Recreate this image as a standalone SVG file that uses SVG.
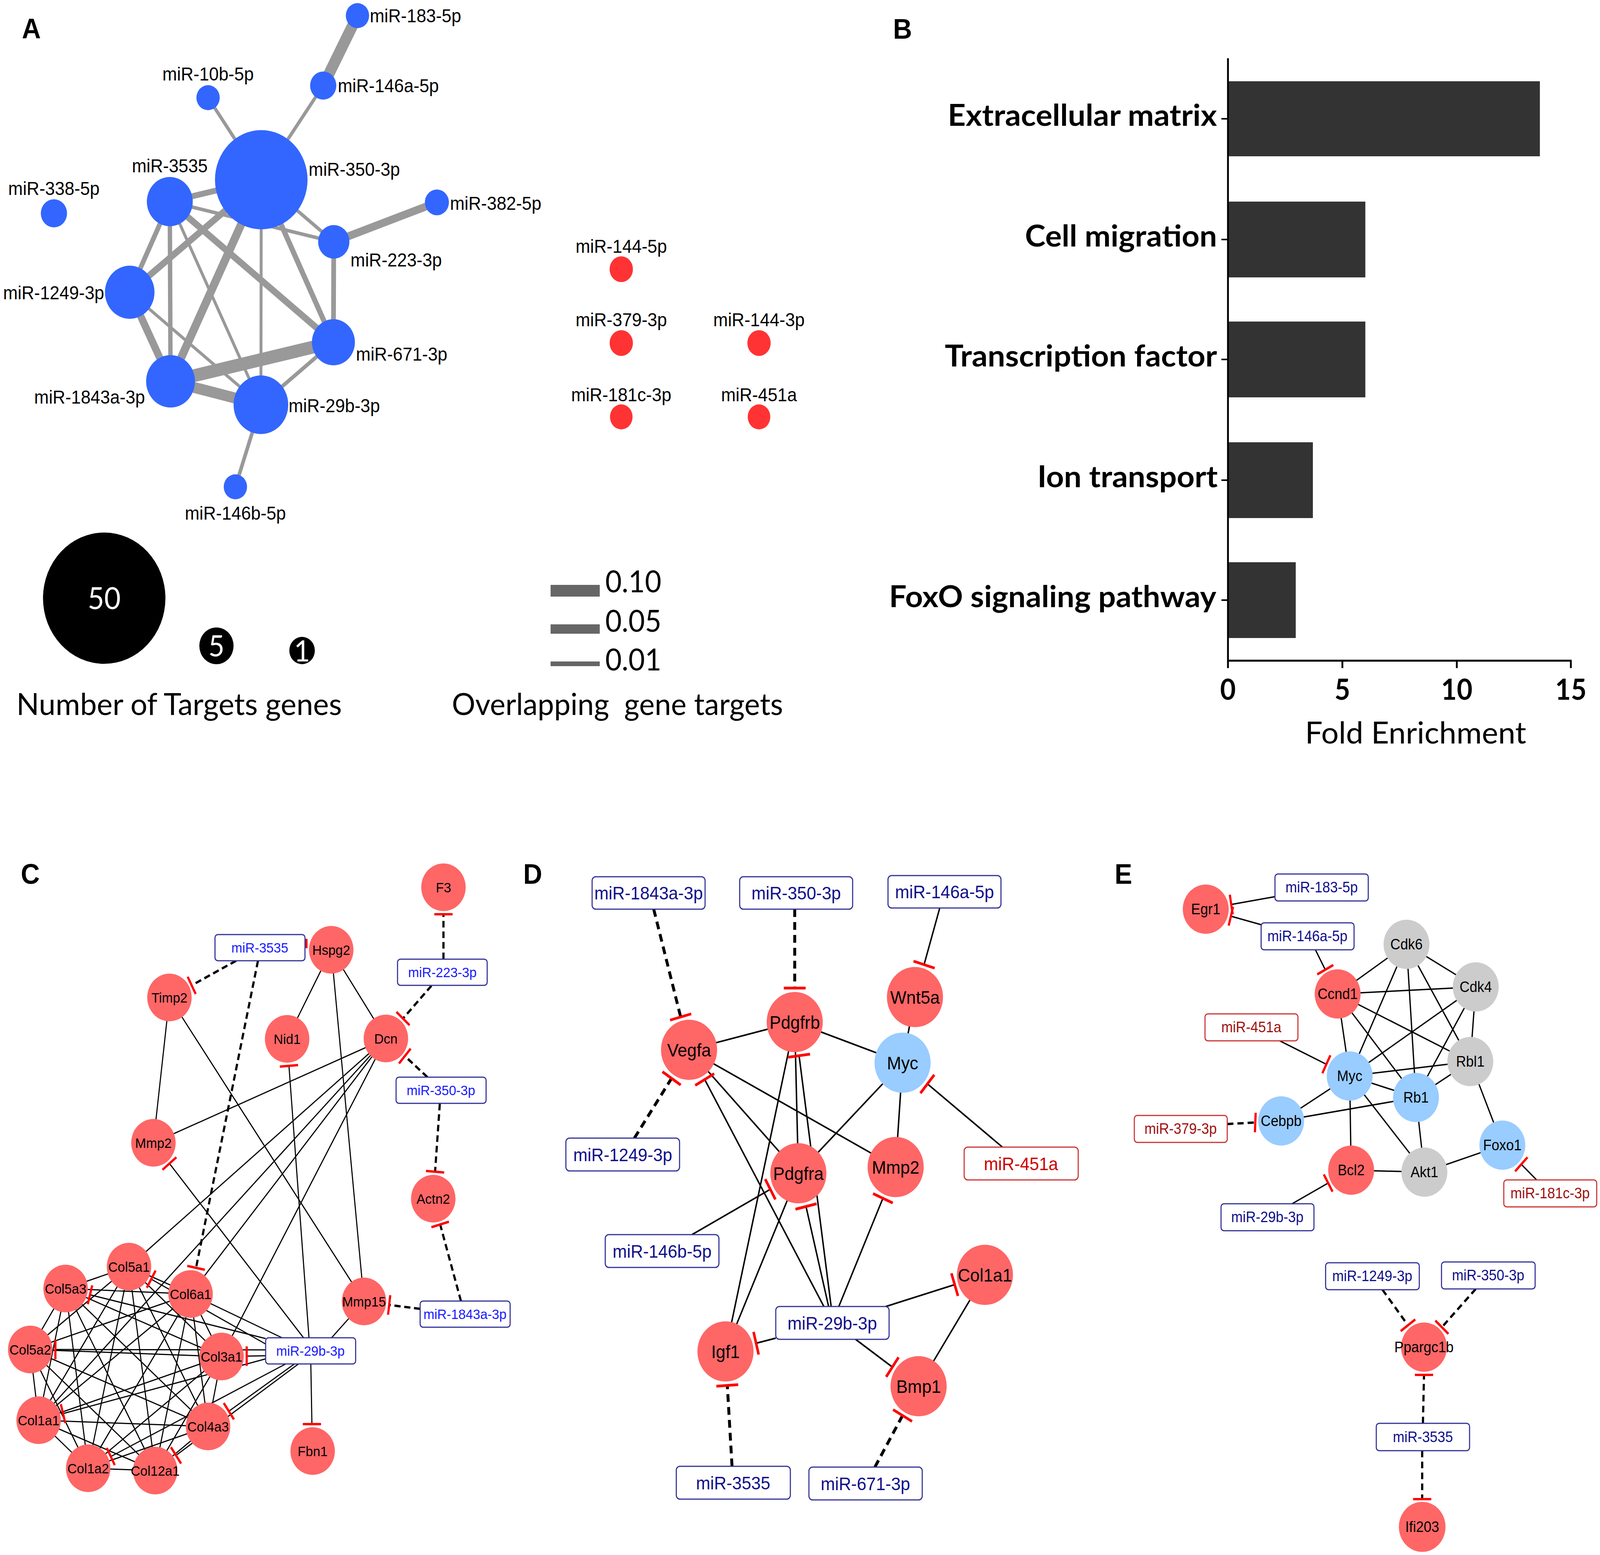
<svg xmlns="http://www.w3.org/2000/svg" width="4391" height="3980" viewBox="0 0 4391 3980">
<style>
text{font-family:"Liberation Sans",Arial,sans-serif}
.cal{font-family:Lato,"Open Sans",sans-serif}
.pan{font-size:72px;font-weight:bold;fill:#000}
.ae{stroke:#999;fill:none}
.an{fill:#3366ff}
.ar{fill:#ff3333}
.al{font-size:48px;fill:#000}
.bl{font-size:76px;font-weight:bold;fill:#000;text-anchor:end}
.tk{font-size:74px;font-weight:bold;fill:#000;text-anchor:middle}
.cp{stroke:#000;stroke-width:3;fill:none}
.dp{stroke:#000;stroke-width:4;fill:none}
.ep{stroke:#000;stroke-width:3.5;fill:none}
.cd{stroke:#000;stroke-width:6;stroke-dasharray:17 10;fill:none}
.dd{stroke:#000;stroke-width:8;stroke-dasharray:20 13;fill:none}
.ed{stroke:#000;stroke-width:6;stroke-dasharray:17 11;fill:none}
.bar{stroke:#ff0000;stroke-width:6;fill:none}
.dbar{stroke:#ff0000;stroke-width:7;fill:none}
.rn{fill:#ff6666}
.bn{fill:#99ccff}
.gn{fill:#cccccc}
.cn{font-size:36px;fill:#000;text-anchor:middle}
.dn{font-size:47px;fill:#000;text-anchor:middle}
.en{font-size:38px;fill:#000;text-anchor:middle}
.box{fill:#fff;stroke:#333399;stroke-width:3}
.rbox{fill:#fff;stroke:#cc3333;stroke-width:3}
.cb{font-size:36px;fill:#1a1aff;text-anchor:middle}
.db{font-size:47px;fill:#10108a;text-anchor:middle}
.dr{font-size:47px;fill:#cc0000;text-anchor:middle}
.eb{font-size:38px;fill:#10108a;text-anchor:middle}
.er{font-size:38px;fill:#a01010;text-anchor:middle}
</style>
<g id="figure" transform="scale(0.93282 1)">
<!-- Panel labels -->
<text class="pan" x="60" y="98">A</text>
<text class="pan" x="2451" y="99">B</text>
<text class="pan" x="57" y="2262">C</text>
<text class="pan" x="1436" y="2262">D</text>
<text class="pan" x="3059" y="2262">E</text>

<!-- ================= Panel A ================= -->
<g id="A-connectors">
<line class="ae" x1="981" y1="40" x2="887" y2="219" stroke-width="30"/>
<line class="ae" x1="887" y1="219" x2="717" y2="460" stroke-width="9"/>
<line class="ae" x1="571" y1="250" x2="717" y2="460" stroke-width="9"/>
<line class="ae" x1="1199" y1="518" x2="916" y2="619" stroke-width="20"/>
<line class="ae" x1="466" y1="516" x2="717" y2="460" stroke-width="15"/>
<line class="ae" x1="466" y1="516" x2="916" y2="619" stroke-width="9"/>
<line class="ae" x1="717" y1="460" x2="916" y2="619" stroke-width="9"/>
<line class="ae" x1="916" y1="619" x2="915" y2="876" stroke-width="13"/>
<line class="ae" x1="717" y1="460" x2="915" y2="876" stroke-width="14"/>
<line class="ae" x1="466" y1="516" x2="915" y2="876" stroke-width="17"/>
<line class="ae" x1="466" y1="516" x2="356" y2="748" stroke-width="13"/>
<line class="ae" x1="466" y1="516" x2="468" y2="976" stroke-width="12"/>
<line class="ae" x1="466" y1="516" x2="716" y2="1036" stroke-width="8"/>
<line class="ae" x1="717" y1="460" x2="356" y2="748" stroke-width="17"/>
<line class="ae" x1="717" y1="460" x2="468" y2="976" stroke-width="22"/>
<line class="ae" x1="717" y1="460" x2="716" y2="1036" stroke-width="8"/>
<line class="ae" x1="356" y1="748" x2="468" y2="976" stroke-width="20"/>
<line class="ae" x1="356" y1="748" x2="716" y2="1036" stroke-width="8"/>
<line class="ae" x1="468" y1="976" x2="915" y2="876" stroke-width="33"/>
<line class="ae" x1="468" y1="976" x2="716" y2="1036" stroke-width="28"/>
<line class="ae" x1="915" y1="876" x2="716" y2="1036" stroke-width="10"/>
<line class="ae" x1="716" y1="1036" x2="646" y2="1246" stroke-width="10"/>
</g>
<g id="A-miR-183-5p"><circle class="an" cx="981" cy="40" r="32"/><text class="al" x="1015" y="57">miR-183-5p</text></g>
<g id="A-miR-146a-5p"><circle class="an" cx="887" cy="219" r="36"/><text class="al" x="927" y="236">miR-146a-5p</text></g>
<g id="A-miR-10b-5p"><circle class="an" cx="571" cy="250" r="32"/><text class="al" x="571" y="206" text-anchor="middle">miR-10b-5p</text></g>
<g id="A-miR-350-3p"><circle class="an" cx="717" cy="460" r="127"/><text class="al" x="847" y="450">miR-350-3p</text></g>
<g id="A-miR-3535"><circle class="an" cx="466" cy="516" r="63"/><text class="al" x="466" y="441" text-anchor="middle">miR-3535</text></g>
<g id="A-miR-338-5p"><circle class="an" cx="148" cy="546" r="36"/><text class="al" x="148" y="499" text-anchor="middle">miR-338-5p</text></g>
<g id="A-miR-382-5p"><circle class="an" cx="1199" cy="518" r="33"/><text class="al" x="1235" y="537">miR-382-5p</text></g>
<g id="A-miR-223-3p"><circle class="an" cx="916" cy="619" r="43"/><text class="al" x="962" y="682">miR-223-3p</text></g>
<g id="A-miR-1249-3p"><circle class="an" cx="356" cy="748" r="68"/><text class="al" x="286" y="766" text-anchor="end">miR-1249-3p</text></g>
<g id="A-miR-671-3p"><circle class="an" cx="915" cy="876" r="59"/><text class="al" x="977" y="923">miR-671-3p</text></g>
<g id="A-miR-1843a-3p"><circle class="an" cx="468" cy="976" r="67"/><text class="al" x="398" y="1033" text-anchor="end">miR-1843a-3p</text></g>
<g id="A-miR-29b-3p"><circle class="an" cx="716" cy="1036" r="75"/><text class="al" x="792" y="1055">miR-29b-3p</text></g>
<g id="A-miR-146b-5p"><circle class="an" cx="646" cy="1246" r="32"/><text class="al" x="646" y="1330" text-anchor="middle">miR-146b-5p</text></g>

<g id="A-miR-144-5p"><ellipse class="ar" cx="1705" cy="689" rx="32" ry="33"/><text class="al" x="1705" y="647" text-anchor="middle">miR-144-5p</text></g>
<g id="A-miR-379-3p"><ellipse class="ar" cx="1705" cy="878" rx="32" ry="33"/><text class="al" x="1705" y="835" text-anchor="middle">miR-379-3p</text></g>
<g id="A-miR-144-3p"><ellipse class="ar" cx="2083" cy="878" rx="32" ry="33"/><text class="al" x="2083" y="835" text-anchor="middle">miR-144-3p</text></g>
<g id="A-miR-181c-3p"><ellipse class="ar" cx="1705" cy="1067" rx="31" ry="32"/><text class="al" x="1705" y="1027" text-anchor="middle">miR-181c-3p</text></g>
<g id="A-miR-451a"><ellipse class="ar" cx="2083" cy="1067" rx="31" ry="32"/><text class="al" x="2083" y="1027" text-anchor="middle">miR-451a</text></g>

<!-- Legend A -->
<g id="A-legend-size">
<circle cx="286" cy="1531" r="168" fill="#000"/>
<text class="cal" x="286" y="1559" font-size="78" fill="#fff" text-anchor="middle">50</text>
<circle cx="594" cy="1653" r="47" fill="#000"/>
<text class="cal" x="594" y="1680" font-size="76" fill="#fff" text-anchor="middle">5</text>
<circle cx="829" cy="1665" r="35" fill="#000"/>
<text class="cal" x="829" y="1693" font-size="76" fill="#fff" text-anchor="middle">1</text>
<text class="cal" x="45" y="1830" font-size="78" fill="#000" textLength="893" lengthAdjust="spacingAndGlyphs">Number of Targets genes</text>
</g>
<g id="A-legend-width">
<rect x="1511" y="1497" width="135" height="30" fill="#666"/>
<rect x="1511" y="1598" width="135" height="24" fill="#666"/>
<rect x="1511" y="1693" width="135" height="12" fill="#666"/>
<text class="cal" x="1661" y="1516" font-size="78" fill="#000" textLength="154" lengthAdjust="spacingAndGlyphs">0.10</text>
<text class="cal" x="1661" y="1617" font-size="78" fill="#000" textLength="154" lengthAdjust="spacingAndGlyphs">0.05</text>
<text class="cal" x="1661" y="1716" font-size="78" fill="#000" textLength="154" lengthAdjust="spacingAndGlyphs">0.01</text>
<text class="cal" x="1240" y="1830" font-size="78" fill="#000" textLength="909" lengthAdjust="spacingAndGlyphs" xml:space="preserve">Overlapping  gene targets</text>
</g>

<!-- ================= Panel B ================= -->
<g id="B-chart">
<rect x="3372" y="208" width="854" height="192" fill="#333"/>
<rect x="3372" y="516" width="375" height="194" fill="#333"/>
<rect x="3372" y="823" width="375" height="194" fill="#333"/>
<rect x="3372" y="1132" width="231" height="194" fill="#333"/>
<rect x="3372" y="1439" width="184" height="194" fill="#333"/>
<path d="M3370 149V1691H4313" stroke="#000" stroke-width="5" fill="none"/>
<path d="M3352 304H3370M3352 613H3370M3352 920H3370M3352 1229H3370M3352 1536H3370" stroke="#000" stroke-width="4"/>
<path d="M3370 1691V1710M3684 1691V1710M3998 1691V1710M4311 1691V1710" stroke="#000" stroke-width="5"/>
<text class="cal bl" x="3340" y="322" textLength="739" lengthAdjust="spacingAndGlyphs">Extracellular matrix</text>
<text class="cal bl" x="3340" y="631" textLength="527" lengthAdjust="spacingAndGlyphs">Cell migration</text>
<text class="cal bl" x="3340" y="938" textLength="747" lengthAdjust="spacingAndGlyphs">Transcription factor</text>
<text class="cal bl" x="3342" y="1247" textLength="495" lengthAdjust="spacingAndGlyphs">Ion transport</text>
<text class="cal bl" x="3338" y="1554" textLength="898" lengthAdjust="spacingAndGlyphs">FoxO signaling pathway</text>
<text class="cal tk" x="3370" y="1791">0</text>
<text class="cal tk" x="3684" y="1791">5</text>
<text class="cal tk" x="3998" y="1791">10</text>
<text class="cal tk" x="4311" y="1791">15</text>
<text class="cal" x="3885" y="1903" font-size="78" text-anchor="middle" textLength="607" lengthAdjust="spacingAndGlyphs">Fold Enrichment</text>
</g>

<!-- ================= Panel C ================= -->
<g id="C-connectors">
<path class="cp" d="M909 2431L788 2659M909 2431L1059 2658M909 2431L999 3331M465 2553L421 2925M465 2553L999 3331M1059 2658L421 2925M1059 2658L354 3242M1059 2658L106 3635M1059 2658L523 3312M1059 2658L608 3472M910 3424L999 3331M774 3424L523 3312"/>
<path class="cp" d="M354 3242L180 3298M354 3242L523 3312M354 3242L83 3454M354 3242L608 3472M354 3242L106 3635M354 3242L571 3651M354 3242L242 3758M354 3242L426 3764M180 3298L523 3312M180 3298L83 3454M180 3298L608 3472M180 3298L106 3635M180 3298L571 3651M180 3298L242 3758M180 3298L426 3764M523 3312L83 3454M523 3312L608 3472M523 3312L106 3635M523 3312L571 3651M523 3312L242 3758M523 3312L426 3764M83 3454L608 3472M83 3454L106 3635M83 3454L571 3651M83 3454L242 3758M83 3454L426 3764M608 3472L106 3635M608 3472L571 3651M608 3472L242 3758M608 3472L426 3764M106 3635L571 3651M106 3635L242 3758M106 3635L426 3764M571 3651L242 3758M571 3651L426 3764M242 3758L426 3764"/>
<path class="cp" d="M833 3424L465 2978M848 3424L793 2728M853 3491L856 3645M729 3426L247 3314M729 3440L415 3274M729 3455L152 3454M729 3470L677 3471M729 3478L173 3618M808 3491L628 3612M819 3491L483 3725M784 3491L304 3728"/>
<path class="cd" d="M1217 2455L1217 2340M1184 2523L1106 2607M1173 2757L1111 2703M1207 2825L1194 2999M1265 3330L1208 3134M1153 3350L1068 3340M648 2459L526 2522M708 2459L538 3245"/>
<path class="bar" d="M1192 2340L1242 2340M1088 2590L1124 2624M1095 2722L1127 2684M1169 2997L1219 3001M1184 3141L1232 3127M1071 3315L1065 3365M515 2500L537 2544M514 3240L562 3250M841 2403L841 2427M446 2994L484 2962M768 2730L818 2726M831 3645L881 3645M253 3290L241 3338M427 3252L403 3296M152 3429L152 3479M677 3446L677 3496M167 3594L179 3642M614 3591L642 3633M469 3704L497 3746M293 3706L315 3750"/>
</g>
<g id="C-F3"><circle class="rn" cx="1217" cy="2271" r="61"/><text class="cn" x="1217" y="2284">F3</text></g>
<g id="C-Hspg2"><circle class="rn" cx="909" cy="2431" r="61"/><text class="cn" x="909" y="2444">Hspg2</text></g>
<g id="C-Timp2"><circle class="rn" cx="465" cy="2553" r="61"/><text class="cn" x="465" y="2566">Timp2</text></g>
<g id="C-Nid1"><circle class="rn" cx="788" cy="2659" r="61"/><text class="cn" x="788" y="2672">Nid1</text></g>
<g id="C-Dcn"><circle class="rn" cx="1059" cy="2658" r="61"/><text class="cn" x="1059" y="2671">Dcn</text></g>
<g id="C-Mmp2"><circle class="rn" cx="421" cy="2925" r="61"/><text class="cn" x="421" y="2938">Mmp2</text></g>
<g id="C-Actn2"><circle class="rn" cx="1189" cy="3068" r="61"/><text class="cn" x="1189" y="3081">Actn2</text></g>
<g id="C-Mmp15"><circle class="rn" cx="999" cy="3331" r="61"/><text class="cn" x="999" y="3344">Mmp15</text></g>
<g id="C-Fbn1"><circle class="rn" cx="858" cy="3714" r="61"/><text class="cn" x="858" y="3727">Fbn1</text></g>
<g id="C-Col5a1"><circle class="rn" cx="354" cy="3242" r="61"/><text class="cn" x="354" y="3255">Col5a1</text></g>
<g id="C-Col5a3"><circle class="rn" cx="180" cy="3298" r="61"/><text class="cn" x="180" y="3311">Col5a3</text></g>
<g id="C-Col6a1"><circle class="rn" cx="523" cy="3312" r="61"/><text class="cn" x="523" y="3325">Col6a1</text></g>
<g id="C-Col5a2"><circle class="rn" cx="83" cy="3454" r="61"/><text class="cn" x="83" y="3467">Col5a2</text></g>
<g id="C-Col3a1"><circle class="rn" cx="608" cy="3472" r="61"/><text class="cn" x="608" y="3485">Col3a1</text></g>
<g id="C-Col1a1"><circle class="rn" cx="106" cy="3635" r="61"/><text class="cn" x="106" y="3648">Col1a1</text></g>
<g id="C-Col4a3"><circle class="rn" cx="571" cy="3651" r="61"/><text class="cn" x="571" y="3664">Col4a3</text></g>
<g id="C-Col1a2"><circle class="rn" cx="242" cy="3758" r="61"/><text class="cn" x="242" y="3771">Col1a2</text></g>
<g id="C-Col12a1"><circle class="rn" cx="426" cy="3764" r="61"/><text class="cn" x="426" y="3777">Col12a1</text></g>
<g id="C-miR-3535"><rect class="box" x="590" y="2392" width="247" height="67" rx="8"/><text class="cb" x="713" y="2438">miR-3535</text></g>
<g id="C-miR-223-3p"><rect class="box" x="1091" y="2455" width="246" height="67" rx="8"/><text class="cb" x="1214" y="2501">miR-223-3p</text></g>
<g id="C-miR-350-3p"><rect class="box" x="1087" y="2757" width="247" height="67" rx="8"/><text class="cb" x="1210" y="2803">miR-350-3p</text></g>
<g id="C-miR-1843a-3p"><rect class="box" x="1153" y="3330" width="247" height="67" rx="8"/><text class="cb" x="1276" y="3376">miR-1843a-3p</text></g>
<g id="C-miR-29b-3p"><rect class="box" x="729" y="3424" width="247" height="67" rx="8"/><text class="cb" x="852" y="3470">miR-29b-3p</text></g>

<!-- ================= Panel D ================= -->
<g id="D-connectors">
<path class="dp" d="M1891 2687L2181 2616M2181 2616L2477 2720M2511 2552L2477 2720M2477 2720L2458 2987M2477 2720L2191 3003M1891 2687L2458 2987M1891 2687L2191 3003M2181 2616L2191 3003M1991 3459L2181 2616M1991 3459L2191 3003M2703 3263L2521 3548"/>
<path class="dp" d="M2579 2324L2536 2469M2261 3344L1934 2763M2751 2936L2545 2774M1899 3160L2114 3044M2274 3344L2212 3088M2281 3344L2193 2702M2302 3344L2423 3067M2431 3344L2620 3288M2348 3428L2449 3499M2129 3425L2075 3438"/>
<path class="dd" d="M1794 2327L1868 2603M2181 2327L2181 2529M1741 2913L1843 2760M2009 3753L1996 3546M2401 3755L2477 3623"/>
<path class="dbar" d="M1897 2595L1839 2611M2151 2529L2211 2529M2565 2478L2507 2460M1818 2743L1868 2777M1908 2778L1960 2748M2526 2798L2564 2751M2100 3018L2128 3070M2183 3095L2241 3081M2163 2706L2223 2698M2396 3055L2450 3079M2611 3259L2629 3317M2466 3474L2432 3524M2068 3409L2082 3467M1966 3548L2026 3544M2451 3608L2503 3638"/>
</g>
<g id="D-Vegfa"><circle class="rn" cx="1891" cy="2687" r="77"/><text class="dn" x="1891" y="2704">Vegfa</text></g>
<g id="D-Pdgfrb"><circle class="rn" cx="2181" cy="2616" r="77"/><text class="dn" x="2181" y="2633">Pdgfrb</text></g>
<g id="D-Wnt5a"><circle class="rn" cx="2511" cy="2552" r="77"/><text class="dn" x="2511" y="2569">Wnt5a</text></g>
<g id="D-Myc"><circle class="bn" cx="2477" cy="2720" r="77"/><text class="dn" x="2477" y="2737">Myc</text></g>
<g id="D-Pdgfra"><circle class="rn" cx="2191" cy="3003" r="77"/><text class="dn" x="2191" y="3020">Pdgfra</text></g>
<g id="D-Mmp2"><circle class="rn" cx="2458" cy="2987" r="77"/><text class="dn" x="2458" y="3004">Mmp2</text></g>
<g id="D-Col1a1"><circle class="rn" cx="2703" cy="3263" r="77"/><text class="dn" x="2703" y="3280">Col1a1</text></g>
<g id="D-Igf1"><circle class="rn" cx="1991" cy="3459" r="77"/><text class="dn" x="1991" y="3476">Igf1</text></g>
<g id="D-Bmp1"><circle class="rn" cx="2521" cy="3548" r="77"/><text class="dn" x="2521" y="3565">Bmp1</text></g>
<g id="D-miR-1843a-3p"><rect class="box" x="1625" y="2244" width="310" height="83" rx="10"/><text class="db" x="1780" y="2302">miR-1843a-3p</text></g>
<g id="D-miR-350-3p"><rect class="box" x="2030" y="2244" width="310" height="83" rx="10"/><text class="db" x="2185" y="2302">miR-350-3p</text></g>
<g id="D-miR-146a-5p"><rect class="box" x="2437" y="2241" width="310" height="83" rx="10"/><text class="db" x="2592" y="2299">miR-146a-5p</text></g>
<g id="D-miR-1249-3p"><rect class="box" x="1553" y="2913" width="312" height="84" rx="10"/><text class="db" x="1709" y="2972">miR-1249-3p</text></g>
<g id="D-miR-451a"><rect class="rbox" x="2646" y="2936" width="313" height="84" rx="10"/><text class="dr" x="2802" y="2995">miR-451a</text></g>
<g id="D-miR-146b-5p"><rect class="box" x="1661" y="3160" width="312" height="84" rx="10"/><text class="db" x="1817" y="3219">miR-146b-5p</text></g>
<g id="D-miR-29b-3p"><rect class="box" x="2129" y="3344" width="311" height="84" rx="10"/><text class="db" x="2284" y="3403">miR-29b-3p</text></g>
<g id="D-miR-3535"><rect class="box" x="1856" y="3753" width="313" height="84" rx="10"/><text class="db" x="2012" y="3812">miR-3535</text></g>
<g id="D-miR-671-3p"><rect class="box" x="2220" y="3755" width="311" height="84" rx="10"/><text class="db" x="2375" y="3814">miR-671-3p</text></g>

<!-- ================= Panel E ================= -->
<g id="E-connectors">
<path class="ep" d="M3671 2544L3860 2417M3671 2544L4050 2526M3671 2544L4035 2717M3671 2544L3704 2754M3671 2544L3886 2809M3860 2417L4050 2526M3860 2417L3704 2754M3860 2417L3886 2809M3860 2417L4035 2717M4050 2526L3704 2754M4050 2526L3886 2809M4050 2526L4035 2717M4035 2717L3704 2754M4035 2717L3886 2809M4035 2717L4123 2931M3704 2754L3886 2809M3704 2754L3516 2869M3704 2754L3708 2995M3704 2754L3909 3000M3886 2809L3516 2869M3886 2809L3909 3000M3708 2995L3909 3000M3909 3000L4123 2931"/>
<path class="ep" d="M3499 2295L3379 2315M3462 2367L3378 2345M3610 2431L3637 2482M3512 2664L3640 2724M3546 3081L3645 3028M4217 3020L4175 2980"/>
<path class="ed" d="M3368 2877L3445 2873M3794 3301L3864 3392M4050 3299L3957 3397M3905 3643L3908 3519M3903 3713L3903 3837"/>
<path class="bar" d="M3375 2290L3383 2340M3384 2321L3372 2369M3659 2470L3615 2494M3651 2701L3629 2747M3446 2848L3444 2898M3633 3006L3657 3050M4158 2998L4192 2962M3884 3377L3844 3407M3975 3414L3939 3380M3883 3519L3933 3519M3878 3837L3928 3837"/>
</g>
<g id="E-Egr1"><circle class="rn" cx="3309" cy="2327" r="63"/><text class="en" x="3309" y="2340">Egr1</text></g>
<g id="E-Ccnd1"><circle class="rn" cx="3671" cy="2544" r="63"/><text class="en" x="3671" y="2557">Ccnd1</text></g>
<g id="E-Cdk6"><circle class="gn" cx="3860" cy="2417" r="63"/><text class="en" x="3860" y="2430">Cdk6</text></g>
<g id="E-Cdk4"><circle class="gn" cx="4050" cy="2526" r="63"/><text class="en" x="4050" y="2539">Cdk4</text></g>
<g id="E-Rbl1"><circle class="gn" cx="4035" cy="2717" r="63"/><text class="en" x="4035" y="2730">Rbl1</text></g>
<g id="E-Myc"><circle class="bn" cx="3704" cy="2754" r="63"/><text class="en" x="3704" y="2767">Myc</text></g>
<g id="E-Rb1"><circle class="bn" cx="3886" cy="2809" r="63"/><text class="en" x="3886" y="2822">Rb1</text></g>
<g id="E-Cebpb"><circle class="bn" cx="3516" cy="2869" r="63"/><text class="en" x="3516" y="2882">Cebpb</text></g>
<g id="E-Foxo1"><circle class="bn" cx="4123" cy="2931" r="63"/><text class="en" x="4123" y="2944">Foxo1</text></g>
<g id="E-Bcl2"><circle class="rn" cx="3708" cy="2995" r="63"/><text class="en" x="3708" y="3008">Bcl2</text></g>
<g id="E-Akt1"><circle class="gn" cx="3909" cy="3000" r="63"/><text class="en" x="3909" y="3013">Akt1</text></g>
<g id="E-Ppargc1b"><circle class="rn" cx="3908" cy="3448" r="63"/><text class="en" x="3908" y="3461">Ppargc1b</text></g>
<g id="E-Ifi203"><circle class="rn" cx="3903" cy="3908" r="64"/><text class="en" x="3903" y="3921">Ifi203</text></g>
<g id="E-miR-183-5p"><rect class="box" x="3499" y="2237" width="256" height="69" rx="8"/><text class="eb" x="3627" y="2284">miR-183-5p</text></g>
<g id="E-miR-146a-5p"><rect class="box" x="3461" y="2362" width="255" height="69" rx="8"/><text class="eb" x="3588" y="2409">miR-146a-5p</text></g>
<g id="E-miR-451a"><rect class="rbox" x="3307" y="2595" width="255" height="69" rx="8"/><text class="er" x="3434" y="2642">miR-451a</text></g>
<g id="E-miR-379-3p"><rect class="rbox" x="3113" y="2855" width="255" height="69" rx="8"/><text class="er" x="3240" y="2902">miR-379-3p</text></g>
<g id="E-miR-181c-3p"><rect class="rbox" x="4127" y="3020" width="255" height="69" rx="8"/><text class="er" x="4254" y="3067">miR-181c-3p</text></g>
<g id="E-miR-29b-3p"><rect class="box" x="3351" y="3081" width="255" height="69" rx="8"/><text class="eb" x="3478" y="3128">miR-29b-3p</text></g>
<g id="E-miR-1249-3p"><rect class="box" x="3638" y="3232" width="257" height="69" rx="8"/><text class="eb" x="3766" y="3279">miR-1249-3p</text></g>
<g id="E-miR-350-3p"><rect class="box" x="3956" y="3230" width="257" height="69" rx="8"/><text class="eb" x="4084" y="3277">miR-350-3p</text></g>
<g id="E-miR-3535"><rect class="box" x="3777" y="3643" width="256" height="70" rx="8"/><text class="eb" x="3905" y="3691">miR-3535</text></g>
</g>
</svg>
